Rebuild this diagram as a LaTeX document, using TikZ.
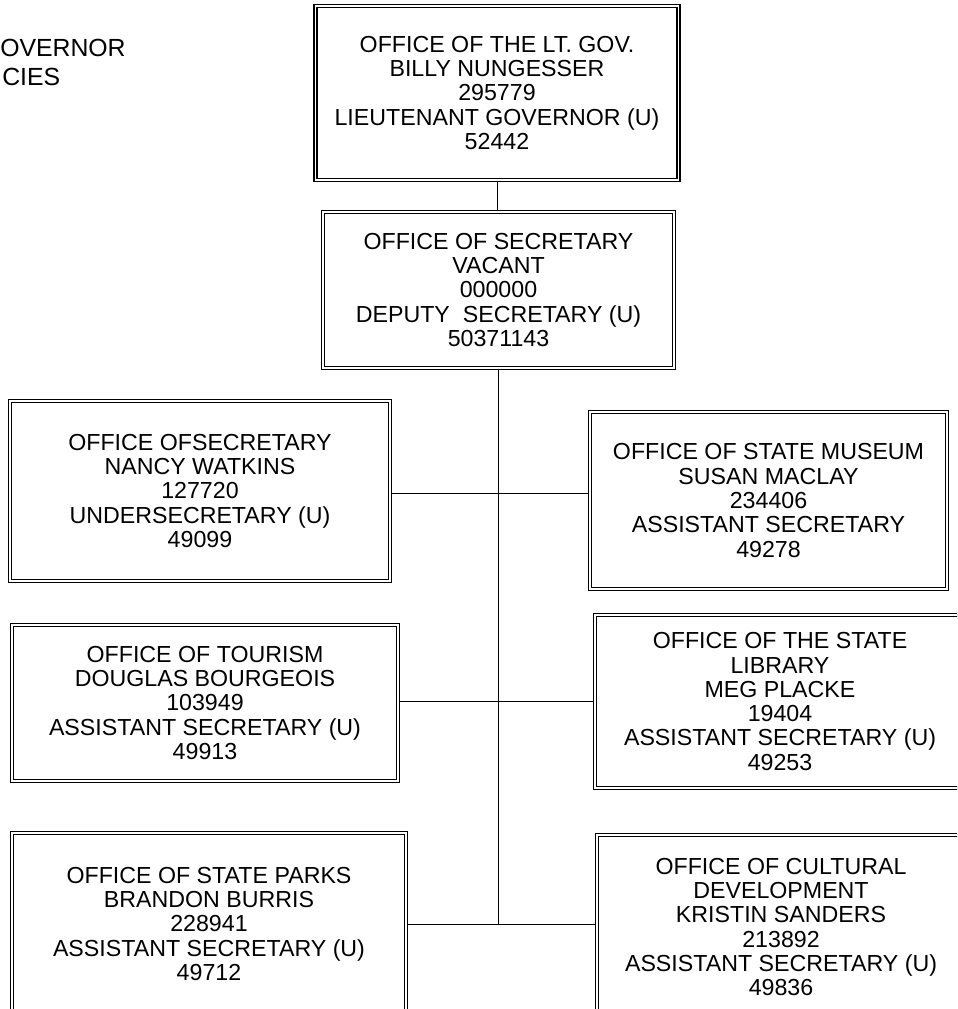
\documentclass[tikz,border=0pt]{standalone}
\usepackage{fontspec}
\setmainfont{Liberation Sans}
\begin{document}
\begin{tikzpicture}[x=0.75pt,y=-0.75pt,
  orgbox/.style={draw=black, line width=1.05pt, double=white, double distance=1.4pt,
    inner sep=0pt, align=center, font=\fontsize{17.4}{18.2}\selectfont},
  sz/.style 2 args={minimum width=#1*0.75pt, minimum height=#2*0.75pt},
  title/.style={inner sep=0pt, font=\fontsize{18.6}{22}\selectfont},
  link/.style={draw=black, line width=0.75pt}]
\useasboundingbox (0,0) rectangle (957,1009);
\clip (0,0) rectangle (957,1009);
\fill[white] (0,0) rectangle (957,1009);

\node[title, anchor=base west] (t1) at (0,57) {OVERNOR};
\node[title, anchor=base west] (t2) at (2,86) {CIES};

\node[orgbox, sz={363}{174}] (lt) at (497,93) {OFFICE OF THE LT. GOV.\\BILLY NUNGESSER\\295779\\LIEUTENANT GOVERNOR (U)\\52442};
\node[orgbox, sz={351}{156}] (sec) at (498.5,290) {OFFICE OF SECRETARY\\VACANT\\000000\\DEPUTY\ \ SECRETARY (U)\\50371143};
\node[orgbox, sz={380}{180}] (l1) at (200,491) {OFFICE OFSECRETARY\\NANCY WATKINS\\127720\\UNDERSECRETARY (U)\\49099};
\node[orgbox, sz={357}{177}] (r1) at (768.5,500.5) {OFFICE OF STATE MUSEUM\\SUSAN MACLAY\\234406\\ASSISTANT SECRETARY\\49278};
\node[orgbox, sz={386}{156}] (l2) at (205,703) {OFFICE OF TOURISM\\DOUGLAS BOURGEOIS\\103949\\ASSISTANT SECRETARY (U)\\49913};
\node[orgbox, sz={370}{173}] (r2) at (780,701.5) {OFFICE OF THE STATE\\LIBRARY\\MEG PLACKE\\19404\\ASSISTANT SECRETARY (U)\\49253};
\node[orgbox, sz={394}{182}] (l3) at (209,924) {OFFICE OF STATE PARKS\\BRANDON BURRIS\\228941\\ASSISTANT SECRETARY (U)\\49712};
\node[orgbox, sz={368}{184}] (r3) at (781,927) {OFFICE OF CULTURAL\\DEVELOPMENT\\KRISTIN SANDERS\\213892\\ASSISTANT SECRETARY (U)\\49836};

\coordinate (j1) at (498.5,493);
\coordinate (j2) at (498.5,701);
\coordinate (j3) at (498.5,924);

\draw[link] (lt.south) -- (lt.south |- sec.north);
\draw[link] (sec.south) -- (j3);
\draw[link] (l1.east |- j1) -- (r1.west |- j1);
\draw[link] (l2.east |- j2) -- (r2.west |- j2);
\draw[link] (l3.east |- j3) -- (r3.west |- j3);
\end{tikzpicture}
\end{document}
